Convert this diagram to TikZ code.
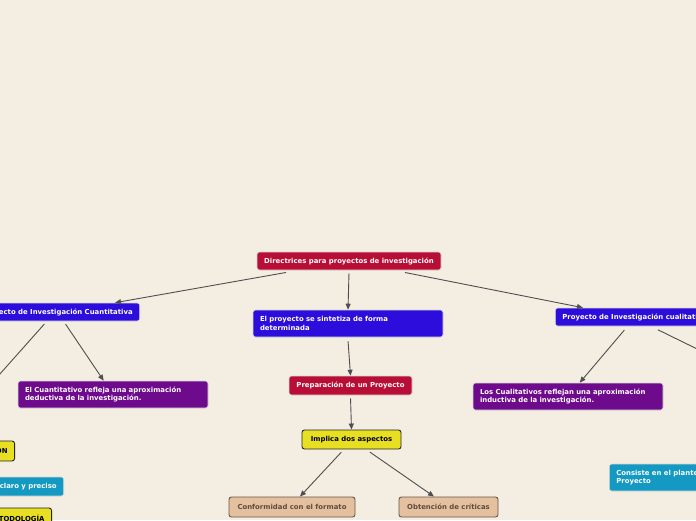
\documentclass[tikz,border=0pt]{standalone}
\usepackage{fontspec}
\setmainfont{DejaVu Sans}
\usetikzlibrary{arrows.meta,positioning}
\definecolor{bgbeige}{HTML}{F3EDE2}
\definecolor{mapred}{HTML}{B80E35}
\definecolor{mapblue}{HTML}{2C0DDC}
\definecolor{mappurple}{HTML}{6E0A8C}
\definecolor{mapyellow}{HTML}{E8DE22}
\definecolor{maptan}{HTML}{E4C09F}
\definecolor{mapcyan}{HTML}{1399C2}
\definecolor{linegray}{HTML}{4F4F4F}
\tikzset{
  topic/.style={draw, rectangle, rounded corners=2.5pt, line width=0.6pt, align=center,
    font=\fontsize{6.9}{8.6}\selectfont\bfseries, inner xsep=7pt, inner ysep=2pt, minimum height=18pt},
  redblk/.style={topic, fill=mapred, draw=white!85!black, text=white},
  blueblk/.style={topic, fill=mapblue, draw=white!85!black, text=white},
  purpblk/.style={topic, fill=mappurple, draw=white!85!black, text=white},
  cyanblk/.style={topic, fill=mapcyan, draw=white!85!black, text=white},
  yelblk/.style={topic, fill=mapyellow, draw=black!85, line width=0.9pt, text=black},
  tanblk/.style={topic, fill=maptan, draw=black!55!maptan, line width=0.9pt, text=black!60!maptan},
  arr/.style={-{Triangle[length=6pt,width=5pt]}, line width=0.9pt, draw=linegray, shorten <=1pt},
}

\begin{document}
\begin{tikzpicture}[x=1pt, y=-1pt]
\useasboundingbox (0,0) rectangle (696,520);
\clip (0,0) rectangle (696,520);
\fill[bgbeige] (0,0) rectangle (696,520);

% centre branch
\node[redblk, minimum width=184pt] (root) at (349,261) {Directrices para proyectos de investigación};
\node[blueblk, minimum width=190pt, minimum height=27pt, text width=176pt, align=left] (sint) at (348,323.5)
  {El proyecto se sintetiza de forma\\determinada};
\node[redblk, minimum width=123pt, minimum height=19pt] (prep) at (350.5,385.5) {Preparación de un Proyecto};
\node[yelblk, minimum width=99pt, minimum height=19pt] (impl) at (351.5,439.5) {Implica dos aspectos};
\node[tanblk, minimum width=126pt, minimum height=20pt] (conf) at (292,507) {Conformidad con el formato};
\node[tanblk, minimum width=99pt, minimum height=20pt] (obt) at (448.5,507) {Obtención de críticas};

% left branch
\node[blueblk, anchor=east] (cuant) at (140,312) {Proyecto de Investigación Cuantitativa};
\node[purpblk, minimum width=190pt, minimum height=27pt, text width=176pt, align=left] (cuantdesc) at (113,394.5)
  {El Cuantitativo refleja una aproximación\\deductiva de la investigación.};
\node[yelblk, anchor=east, minimum height=20pt] (justif) at (15,451) {JUSTIFICACIÓN};
\node[cyanblk, anchor=east, minimum height=19pt] (titulo) at (64,486.5) {Título claro y preciso};
\node[yelblk, anchor=east, minimum height=20pt] (metod) at (52,518) {METODOLOGÍA};
\coordinate (cuantout) at (-25,402);

% right branch
\node[blueblk, anchor=west] (cual) at (555,317) {Proyecto de Investigación cualitativa};
\node[purpblk, minimum width=190pt, minimum height=27pt, text width=176pt, align=left] (cualdesc) at (568,396.5)
  {Los Cualitativos reflejan una aproximación\\inductiva de la investigación.};
\node[cyanblk, anchor=west, minimum height=27pt, align=left] (consiste) at (609,477.5)
  {Consiste en el planteamiento del\\Proyecto};
\coordinate (cualout) at (740,370);

% connectors
\draw[arr] ([xshift=-62pt,yshift=-2pt]root.south) -- ([xshift=-25pt]cuant.north east);
\draw[arr] ([yshift=-2pt]root.south) -- (sint.north);
\draw[arr] ([xshift=55pt,yshift=-2pt]root.south) -- ([xshift=28pt]cual.north west);
\draw[arr] ([xshift=-75pt,yshift=-2pt]cuant.south east) -- ([xshift=86pt]cuantdesc.north west);
\draw[arr] ([xshift=-95pt,yshift=-2pt]cuant.south east) -- (cuantout);
\draw[arr] ([xshift=70pt,yshift=-3pt]cual.south west) -- ([xshift=107pt]cualdesc.north west);
\draw[arr] ([xshift=102pt,yshift=-3pt]cual.south west) -- (cualout);
\draw[arr] ([yshift=-3pt]sint.south) -- (prep.north);
\draw[arr] ([yshift=-2pt]prep.south) -- (impl.north);
\draw[arr] ([xshift=-9.5pt,yshift=-2pt]impl.south) -- ([xshift=8pt]conf.north);
\draw[arr] ([xshift=17.5pt,yshift=-2pt]impl.south) -- ([xshift=-14.5pt]obt.north);

\end{tikzpicture}
\end{document}
